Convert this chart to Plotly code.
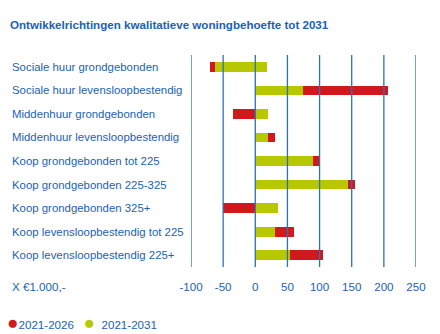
import plotly.graph_objects as go

# Woningtypen (van boven naar beneden)
categorieen = [
    "Sociale huur grondgebonden",
    "Sociale huur levensloopbestendig",
    "Middenhuur grondgebonden",
    "Middenhuur levensloopbestendig",
    "Koop grondgebonden tot 225",
    "Koop grondgebonden 225-325",
    "Koop grondgebonden 325+",
    "Koop levensloopbestendig tot 225",
    "Koop levensloopbestendig 225+",
]

# Segmenten per periode: begin- en eindwaarde (x €1.000,-)
rood_van = [-71, 74, -35, 20, 90, 144, -51, 31, 54]
rood_tot = [-63, 207, 0, 31, 99, 155, 0, 60, 105]
groen_van = [-63, 0, 0, 0, 0, 0, 0, 0, 0]
groen_tot = [18, 74, 20, 20, 90, 144, 35, 31, 54]

as_waarden = [-100, -50, 0, 50, 100, 150, 200, 250]
as_labels = ["-100", "-50", "0", "50", "100", "150", "200", "250"]

ROOD = "#d1191d"
GROEN = "#b8c800"
BLAUW = "#1a62b4"
LIJN = "#2a72b8"
FONT = "Liberation Sans"

fig = go.Figure()
fig.add_trace(go.Bar(
    y=categorieen, x=[t - v for v, t in zip(rood_van, rood_tot)], base=rood_van,
    orientation="h", marker=dict(color=ROOD, line=dict(width=0)),
    name="2021-2026", width=0.41, showlegend=False,
))
fig.add_trace(go.Bar(
    y=categorieen, x=[t - v for v, t in zip(groen_van, groen_tot)], base=groen_van,
    orientation="h", marker=dict(color=GROEN, line=dict(width=0)),
    name="2021-2031", width=0.41, showlegend=False,
))

# Verticale rasterlijnen boven de balken
for v in as_waarden:
    fig.add_shape(type="line", xref="x", yref="paper", x0=v, x1=v, y0=0, y1=1,
                  line=dict(color=LIJN, width=1.3), layer="above")

# Categorielabels links uitgelijnd
for c in categorieen:
    fig.add_annotation(text=c, xref="paper", yref="y", x=-0.806, y=c,
                       xanchor="left", yanchor="middle", showarrow=False,
                       font=dict(family=FONT, size=11.4, color=BLAUW))

fig.add_annotation(text="X €1.000,-", xref="paper", yref="paper", x=-0.806, y=-0.09,
                   xanchor="left", yanchor="middle", showarrow=False,
                   font=dict(family=FONT, size=11.6, color=BLAUW))

fig.add_annotation(
    text="Ontwikkelrichtingen kwalitatieve woningbehoefte tot 2031",
    xref="paper", yref="paper", x=-0.812, y=1.145, xanchor="left", yanchor="middle",
    showarrow=False, font=dict(family=FONT, size=11.6, color=BLAUW, weight="bold"),
)

# Legenda
fig.add_annotation(
    text=(f"<span style='color:{ROOD};font-size:19px'>●</span>2021-2026   "
          f"<span style='color:{GROEN};font-size:19px'>●</span>  2021-2031"),
    xref="paper", yref="paper", x=-0.825, y=-0.262, xanchor="left", yanchor="middle",
    showarrow=False, font=dict(family=FONT, size=11.6, color=BLAUW),
)

fig.update_layout(
    width=440, height=334,
    margin=dict(l=191, r=24, t=55, b=67),
    paper_bgcolor="white", plot_bgcolor="white",
    barmode="overlay", bargap=0,
    showlegend=False,
    xaxis=dict(range=[-100, 250], tickvals=as_waarden, ticktext=as_labels,
               showgrid=False, zeroline=False, showline=False, ticks="",
               ticklabelstandoff=11,
               tickfont=dict(family=FONT, size=11.6, color=BLAUW), fixedrange=True),
    yaxis=dict(autorange="reversed", showticklabels=False, showgrid=False,
               zeroline=False, showline=False, ticks="", fixedrange=True),
)

fig.write_html("out.html")
